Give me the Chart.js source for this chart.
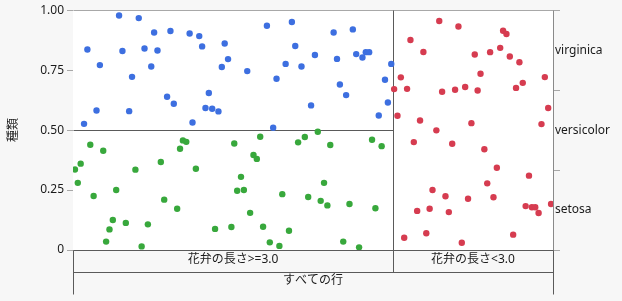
<!DOCTYPE html>
<html>
<head>
<meta charset="utf-8">
<script src="https://cdn.jsdelivr.net/npm/chart.js@4"></script>
<style>
  html, body { margin: 0; padding: 0; background: #f7f7f7; }
  #wrap { width: 622px; height: 301px; position: relative; }
</style>
</head>
<body>
<div id="wrap"><canvas id="partitionCanvas"></canvas></div>
<script>
// species levels (bottom to top on the right axis)
const species = ["setosa", "versicolor", "virginica"];
const splitLabels = ["花弁の長さ>=3.0", "花弁の長さ<3.0"];
const yTicks = [0, 0.25, 0.5, 0.75, 1];
const yTickLabels = ["0", "0.25", "0.50", "0.75", "1.00"];
const splitAt = 2 / 3;   // left leaf holds 100 of 150 rows

// jittered points [x, y]
const virginicaPts = [
  [0.030, 0.836], [0.056, 0.771], [0.096, 0.978], [0.103, 0.830], [0.123, 0.722],
  [0.137, 0.967], [0.149, 0.840], [0.163, 0.765], [0.169, 0.907], [0.176, 0.832],
  [0.203, 0.913], [0.196, 0.639], [0.210, 0.610], [0.243, 0.903], [0.263, 0.892],
  [0.269, 0.849], [0.283, 0.655], [0.276, 0.592], [0.290, 0.589], [0.303, 0.578],
  [0.249, 0.532], [0.310, 0.763], [0.316, 0.861], [0.323, 0.796], [0.023, 0.526],
  [0.049, 0.582], [0.117, 0.579], [0.404, 0.935], [0.456, 0.951], [0.363, 0.746],
  [0.424, 0.714], [0.443, 0.776], [0.463, 0.851], [0.476, 0.765], [0.504, 0.813],
  [0.496, 0.603], [0.543, 0.907], [0.583, 0.920], [0.550, 0.797], [0.590, 0.817],
  [0.610, 0.825], [0.617, 0.825], [0.603, 0.803], [0.556, 0.690], [0.569, 0.646],
  [0.663, 0.776], [0.650, 0.710], [0.656, 0.615], [0.637, 0.561], [0.417, 0.510]
];
const versicolorPts = [
  [0.004, 0.336], [0.010, 0.280], [0.016, 0.360], [0.036, 0.439], [0.043, 0.225],
  [0.063, 0.414], [0.069, 0.035], [0.076, 0.086], [0.083, 0.125], [0.090, 0.250],
  [0.110, 0.113], [0.130, 0.335], [0.143, 0.015], [0.156, 0.107], [0.183, 0.367],
  [0.190, 0.210], [0.217, 0.172], [0.223, 0.422], [0.229, 0.457], [0.236, 0.451],
  [0.256, 0.339], [0.296, 0.088], [0.330, 0.096], [0.336, 0.444], [0.342, 0.247],
  [0.350, 0.305], [0.356, 0.250], [0.390, 0.472], [0.376, 0.396], [0.383, 0.380],
  [0.369, 0.155], [0.396, 0.097], [0.410, 0.032], [0.430, 0.017], [0.436, 0.233],
  [0.450, 0.080], [0.469, 0.449], [0.483, 0.471], [0.510, 0.493], [0.490, 0.221],
  [0.516, 0.205], [0.523, 0.280], [0.530, 0.186], [0.536, 0.438], [0.563, 0.035],
  [0.576, 0.192], [0.596, 0.011], [0.623, 0.460], [0.630, 0.174], [0.643, 0.433]
];
const setosaPts = [
  [0.669, 0.671], [0.683, 0.720], [0.696, 0.672], [0.703, 0.876], [0.730, 0.826],
  [0.763, 0.955], [0.769, 0.660], [0.796, 0.668], [0.803, 0.932], [0.817, 0.680],
  [0.837, 0.815], [0.843, 0.665], [0.849, 0.735], [0.869, 0.825], [0.890, 0.843],
  [0.896, 0.914], [0.903, 0.901], [0.910, 0.807], [0.923, 0.676], [0.930, 0.783],
  [0.937, 0.697], [0.983, 0.721], [0.990, 0.592], [0.976, 0.525], [0.676, 0.560],
  [0.723, 0.540], [0.757, 0.499], [0.830, 0.529], [0.710, 0.450], [0.790, 0.443],
  [0.857, 0.420], [0.883, 0.343], [0.950, 0.310], [0.863, 0.278], [0.749, 0.250],
  [0.776, 0.224], [0.823, 0.214], [0.876, 0.220], [0.717, 0.163], [0.743, 0.172],
  [0.783, 0.158], [0.943, 0.183], [0.956, 0.178], [0.963, 0.178], [0.970, 0.154],
  [0.996, 0.192], [0.690, 0.051], [0.736, 0.070], [0.810, 0.030], [0.917, 0.064]
];

const FONT = "'Noto Sans', 'Noto Sans CJK JP', sans-serif";
const TEXT = "#1a1a1a";
const DARK = "#5a5a5a";
const LIGHT = "#a8a8a8";

const toXY = pts => pts.map(p => ({ x: p[0], y: p[1] }));

// white plot area + partition frame lines
const partitionPlugin = {
  id: "partitionPlugin",
  beforeDatasetsDraw(chart) {
    const { ctx, chartArea: a, scales } = chart;
    const xs = scales.x, ys = scales.y;
    ctx.save();
    ctx.fillStyle = "#ffffff";
    ctx.fillRect(a.left, a.top, a.right - a.left, a.bottom - a.top);

    const line = (x1, y1, x2, y2, c) => {
      ctx.strokeStyle = c;
      ctx.lineWidth = 1;
      ctx.beginPath();
      ctx.moveTo(x1, y1);
      ctx.lineTo(x2, y2);
      ctx.stroke();
    };
    const sx = Math.round(xs.getPixelForValue(splitAt)) + 0.5;
    const half = Math.round(ys.getPixelForValue(0.5)) + 0.5;
    const top = Math.round(a.top) + 0.5;
    const bot = Math.round(a.bottom) + 0.5;
    const L = Math.round(a.left) + 0.5;
    const R = Math.round(a.right) + 0.5;
    const band = bot + 22;
    const end = band + 22;

    line(L, top, R, top, LIGHT);
    line(L, half, sx, half, DARK);
    line(sx, top, sx, band, DARK);
    line(L, bot, R, bot, DARK);
    line(L, band, R, band, DARK);
    line(L, bot, L, end, DARK);
    line(R, bot, R, end, DARK);
    ctx.restore();
  }
};

const ds = (label, pts, color) => ({
  label: label,
  data: toXY(pts),
  backgroundColor: color,
  borderWidth: 0,
  pointRadius: 3.2,
  pointHoverRadius: 3.2
});

new Chart(document.getElementById("partitionCanvas").getContext("2d"), {
  type: "scatter",
  data: {
    datasets: [
      ds("virginica", virginicaPts, "#3d6fe0"),
      ds("versicolor", versicolorPts, "#38a83c"),
      ds("setosa", setosaPts, "#d63c50")
    ]
  },
  options: {
    responsive: true,
    maintainAspectRatio: false,
    animation: false,
    layout: { padding: { top: 10, left: 0, right: 0, bottom: 0 } },
    plugins: {
      legend: { display: false },
      tooltip: { enabled: false }
    },
    scales: {
      x: {
        type: "linear",
        min: 0,
        max: 1,
        afterBuildTicks: s => { s.ticks = [{ value: splitAt / 2 }, { value: (1 + splitAt) / 2 }]; },
        afterFit: s => { s.height = 51; },
        ticks: {
          autoSkip: false,
          maxRotation: 0,
          padding: 2,
          color: TEXT,
          font: { family: FONT, size: 12 },
          callback: (v, i) => splitLabels[i]
        },
        grid: { display: false, drawTicks: false },
        border: { display: false },
        title: {
          display: true,
          text: "すべての行",
          color: TEXT,
          font: { family: FONT, size: 12 },
          padding: { top: 0, bottom: 13 }
        }
      },
      y: {
        type: "linear",
        position: "left",
        min: 0,
        max: 1,
        afterBuildTicks: s => { s.ticks = yTicks.map(v => ({ value: v })); },
        afterFit: s => { s.width = 73; },
        ticks: {
          padding: 3,
          color: TEXT,
          font: { family: FONT, size: 12 },
          callback: (v, i) => yTickLabels[i]
        },
        grid: { drawOnChartArea: false, tickLength: 6, color: LIGHT },
        border: { color: LIGHT },
        title: {
          display: true,
          text: "種類",
          color: TEXT,
          font: { family: FONT, size: 12 },
          padding: { top: 6, bottom: 0 }
        }
      },
      y2: {
        type: "linear",
        position: "right",
        min: 0,
        max: 1,
        afterBuildTicks: s => {
          s.ticks = [0, 1, 2, 3, 4, 5, 6].map(k => ({ value: k / 6 }));
        },
        afterFit: s => { s.width = 69; },
        ticks: {
          padding: -5,
          color: TEXT,
          font: { family: FONT, size: 12 },
          callback: (v, i) => (i % 2 === 1 ? species[(i - 1) / 2] : "")
        },
        grid: {
          drawOnChartArea: false,
          tickLength: 7,
          color: c => (c.index % 2 === 0 ? LIGHT : "rgba(0,0,0,0)")
        },
        border: { color: "#8a8a8a" }
      }
    }
  },
  plugins: [partitionPlugin]
});
</script>
</body>
</html>
